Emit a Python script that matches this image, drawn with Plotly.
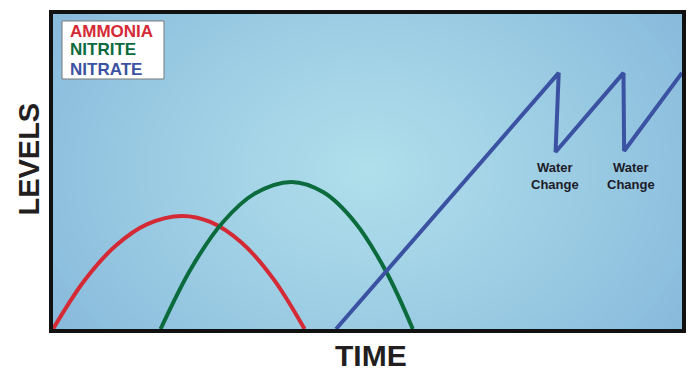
import plotly.graph_objects as go

# ---------------- data (time vs level, arbitrary units 0-100) ----------------
ammonia_t = [0, 5, 10, 15, 20.5, 25, 30, 35, 40]
ammonia_lvl = [0, 15.4, 26.5, 33.3, 35.9, 34.0, 27.4, 16.0, 0]

nitrite_t = [17.1, 22, 27, 32, 37.9, 43, 48, 53, 57.2]
nitrite_lvl = [0, 19.4, 33.9, 42.9, 46.7, 43.4, 33.9, 18.1, 0]

nitrate_t = [45.0, 80.4, 79.9, 90.7, 90.8, 100.0]
nitrate_lvl = [0, 81.3, 56.2, 81.3, 56.5, 81.3]

water_change_t = [79.8, 91.9]
water_change_lvl = [56.2, 56.2]

legend_names = ["AMMONIA", "NITRITE", "NITRATE"]
colors = ["#d42a36", "#0b6b3c", "#3b52a3"]

FONT = "Liberation Sans, Arial"

fig = go.Figure()

# ---------------- radial background glow ----------------
edge = (121, 171, 214)
center = (176, 224, 235)
cx, cy = 50.0, 50.5
steps = 45
shapes = []
for i in range(steps):
    t = 1 - i / steps
    rx = 60 * t * 1.25
    ry = 115 * t
    k = (1 - t) ** 0.8
    col = tuple(round(edge[j] + (center[j] - edge[j]) * k) for j in range(3))
    shapes.append(dict(
        type="circle", xref="x", yref="y", layer="below",
        x0=cx - rx, x1=cx + rx, y0=cy - ry, y1=cy + ry,
        fillcolor="rgb(%d,%d,%d)" % col, line=dict(width=0),
    ))

# ---------------- curves ----------------
fig.add_trace(go.Scatter(x=ammonia_t, y=ammonia_lvl, mode="lines",
                         line=dict(color=colors[0], width=4, shape="spline", smoothing=1.0)))
fig.add_trace(go.Scatter(x=nitrite_t, y=nitrite_lvl, mode="lines",
                         line=dict(color=colors[1], width=4, shape="spline", smoothing=1.0)))
fig.add_trace(go.Scatter(x=nitrate_t, y=nitrate_lvl, mode="lines",
                         line=dict(color=colors[2], width=4)))

# frame (paper refs so the stroke is not clipped)
shapes.append(dict(type="rect", xref="paper", yref="paper", x0=0, x1=1, y0=0, y1=1,
                   line=dict(color="#111111", width=4), layer="above"))
# explicit right edge of the frame
shapes.append(dict(type="line", xref="paper", yref="paper", x0=1, x1=1, y0=-0.006, y1=1.006,
                   line=dict(color="#111111", width=4), layer="above"))

# legend box
shapes.append(dict(type="rect", xref="paper", yref="paper", x0=0.0174, x1=0.1785,
                   y0=0.790, y1=0.9718, fillcolor="white",
                   line=dict(color="#777777", width=1), layer="above"))

annotations = []
for t, lvl in zip(water_change_t, water_change_lvl):
    annotations.append(dict(
        x=t, y=lvl, xref="x", yref="y", yanchor="top", yshift=-6,
        text="<b>Water<br>Change</b>", showarrow=False, align="center",
        font=dict(family=FONT, size=13, color="#1c1c28"),
    ))

legend_y = [0.9404, 0.8809, 0.8213]
for name, c, ly in zip(legend_names, colors, legend_y):
    annotations.append(dict(
        x=0.0269, y=ly, xref="paper", yref="paper", text="<b>%s</b>" % name,
        showarrow=False, xanchor="left", yanchor="middle",
        font=dict(family=FONT, size=17, color=c),
    ))

# axis titles
annotations.append(dict(
    x=0.505, y=-0.078, xref="paper", yref="paper", text="<b>TIME</b>", showarrow=False,
    xanchor="center", yanchor="middle",
    font=dict(family=FONT, size=30, color="#231f20"),
))
annotations.append(dict(
    x=-0.035, y=0.54, xref="paper", yref="paper", text="<b>LEVELS</b>", showarrow=False,
    xanchor="center", yanchor="middle", textangle=-90,
    font=dict(family=FONT, size=29, color="#231f20"),
))

# the page body adds an 8px offset; keep the right frame inside the visible area
fig.update_layout(
    width=686, height=360,
    margin=dict(l=43, r=10, t=4, b=37, autoexpand=False),
    paper_bgcolor="white", plot_bgcolor="rgb(121,171,214)",
    showlegend=False,
    shapes=shapes,
    annotations=annotations,
    xaxis=dict(range=[-0.32, 100.32], showgrid=False, zeroline=False, showticklabels=False,
               automargin=False),
    yaxis=dict(range=[-0.63, 100.63], showgrid=False, zeroline=False, showticklabels=False,
               automargin=False, showline=True, mirror=True, linecolor="#111111", linewidth=2),
)

fig.write_html("out.html")
